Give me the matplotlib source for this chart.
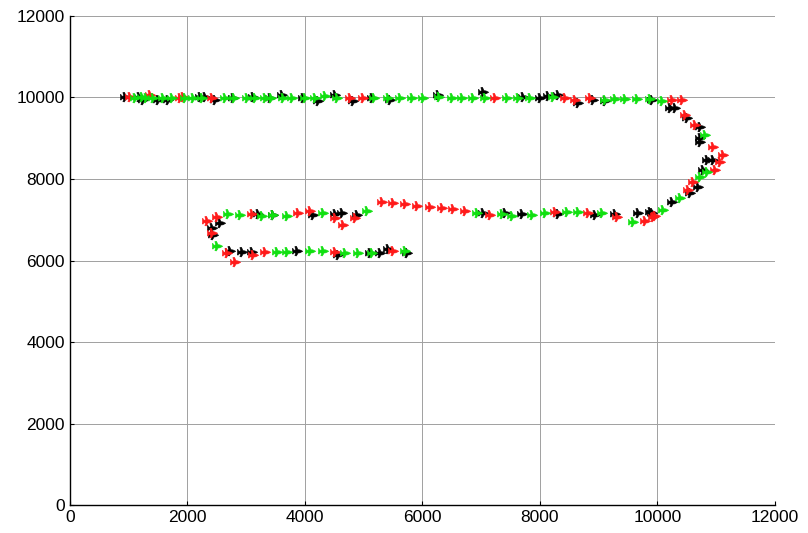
import matplotlib.pyplot as plt
from matplotlib.path import Path

# ---------------------------------------------------------
# data
# ---------------------------------------------------------

green_x = [1110, 1220, 1300, 1410, 1580, 1740, 1950, 2090, 2250, 2640, 2800, 3010, 3150,
           3320, 3420, 3630, 3780, 4000, 4170, 4340, 4540, 5170, 5410, 5620, 5820, 6010,
           6290, 6500, 6670, 6860, 7060, 7440, 7630, 7830, 8220, 9100, 9280, 9450,
           9650, 9870, 10080,
           10810, 10840, 10720, 10380, 10090,
           9580, 9060, 8650, 8460, 8090, 7860, 7520, 7350, 6930,
           5060, 4310, 3690, 3460, 3270, 2890, 2690,
           2500, 3520, 3690, 4090, 4310, 4680, 4900, 5140, 5700]
green_y = [9990, 10010, 9980, 9990, 9990, 9990, 9990, 9990, 9980, 9990, 9980, 9990, 9980,
           9990, 9980, 9980, 9990, 9980, 9990, 10040, 9990, 9990, 9990, 9990, 9990, 9990,
           10020, 9990, 9990, 9990, 9990, 9990, 9990, 9990, 10010, 9930, 9960, 9960,
           9960, 9960, 9910,
           9080, 8170, 8050, 7530, 7240,
           6940, 7170, 7190, 7190, 7170, 7120, 7090, 7140, 7170,
           7210, 7170, 7090, 7120, 7090, 7120, 7140,
           6360, 6210, 6210, 6230, 6230, 6180, 6180, 6180, 6230]

red_x = [1020, 1360, 1870, 1920, 2420, 4770, 4990, 7230, 8430, 8600, 8850, 10250, 10420,
         10470, 10640, 10940, 11110, 11060, 10980, 10610, 10520, 9920,
         9960, 9790, 9310, 8820, 8260, 7150,
         6720, 6520, 6330, 6130, 5910, 5700, 5500, 5310,
         4850, 4650, 4510, 4090, 3880, 3100, 2500, 2330,
         2420, 2670, 2810, 3110, 3320, 4510, 5500]
red_y = [10010, 10060, 9990, 10010, 9990, 9990, 9990, 9990, 9990, 9940, 9990, 9940, 9940,
         9570, 9330, 8790, 8590, 8420, 8220, 7930, 7730, 7070,
         7090, 6970, 7070, 7170, 7190, 7120,
         7210, 7260, 7290, 7310, 7340, 7390, 7410, 7440,
         7040, 6870, 7040, 7210, 7170, 7140, 7070, 6970,
         6670, 6180, 5960, 6130, 6210, 6210, 6230]

black_x = [940, 1180, 1240, 1500, 1670, 2210, 2300, 2470, 2770, 3110, 3400, 3610, 3970,
           4230, 4510, 4820, 5140, 5440, 6260, 7030, 7710, 8000, 8140, 8310, 8650,
           8900, 9110, 9900, 10210, 10300, 10500,
           10720, 10720, 10720, 10840, 10940, 10780, 10690, 10550, 10250, 9870,
           9910, 9670, 9280, 8940, 8300, 7690, 7400, 7030,
           4890, 4630, 4510, 4140, 3460, 3200,
           2550, 2420, 2430, 2720, 2930, 3100, 3860, 4560, 5110, 5280, 5410, 5740]
black_y = [10010, 10020, 9940, 9940, 9940, 10010, 10010, 9940, 9990, 10010, 9990, 10060, 9990,
           9920, 10060, 9910, 9990, 9950, 10060, 10130, 10010, 9990, 10040, 10060, 9870,
           9930, 9920, 9930, 9740, 9740, 9500,
           9280, 9010, 8910, 8470, 8470, 8220, 7800, 7660, 7440, 7190,
           7170, 7170, 7140, 7120, 7140, 7140, 7160, 7170,
           7120, 7170, 7140, 7120, 7120, 7140,
           6920, 6800, 6630, 6230, 6210, 6210, 6230, 6130, 6180, 6180, 6280, 6180]

x_ticks = [0, 2000, 4000, 6000, 8000, 10000, 12000]
y_ticks = [0, 2000, 4000, 6000, 8000, 10000, 12000]


# ---------------------------------------------------------
# little airplane / bird marker
# ---------------------------------------------------------

def plane_marker():
    verts = [(1.0, 0.05), (0.5, 0.3), (0.1, 0.35), (-0.2, 1.0), (-0.5, 0.95),
             (-0.35, 0.3), (-0.7, 0.25), (-0.9, 0.6), (-1.0, 0.55), (-0.95, 0.0),
             (-1.0, -0.45), (-0.85, -0.5), (-0.7, -0.25), (-0.35, -0.3),
             (-0.5, -0.8), (-0.2, -0.85), (0.1, -0.3), (0.5, -0.25), (1.0, 0.05)]
    codes = [Path.MOVETO] + [Path.LINETO] * (len(verts) - 2) + [Path.CLOSEPOLY]
    return Path(verts, codes)


plt.rcParams['font.family'] = ['Liberation Sans', 'DejaVu Sans']

fig = plt.figure(figsize=(8.08, 5.33), dpi=100)
ax = fig.add_axes([0.0866, 0.0525, 0.8724, 0.9175])

mk = plane_marker()
ax.plot(black_x, black_y, linestyle='none', marker=mk, markersize=7.5,
        color='black', markeredgewidth=0.4)
ax.plot(red_x, red_y, linestyle='none', marker=mk, markersize=7.5,
        color='#ff1a1a', markeredgewidth=0.4)
ax.plot(green_x, green_y, linestyle='none', marker=mk, markersize=7.5,
        color='#10e010', markeredgewidth=0.4)

ax.set_xlim(0, 12000)
ax.set_ylim(0, 12000)
ax.set_xticks(x_ticks)
ax.set_yticks(y_ticks)
ax.tick_params(direction='in', length=3, labelsize=12.5, colors='black')
ax.grid(True, color='#a0a0a0', linewidth=0.7)
ax.set_axisbelow(True)
for s in ['top', 'right']:
    ax.spines[s].set_visible(False)
for s in ['left', 'bottom']:
    ax.spines[s].set_linewidth(1.0)

fig.savefig('out.png', dpi=100)
